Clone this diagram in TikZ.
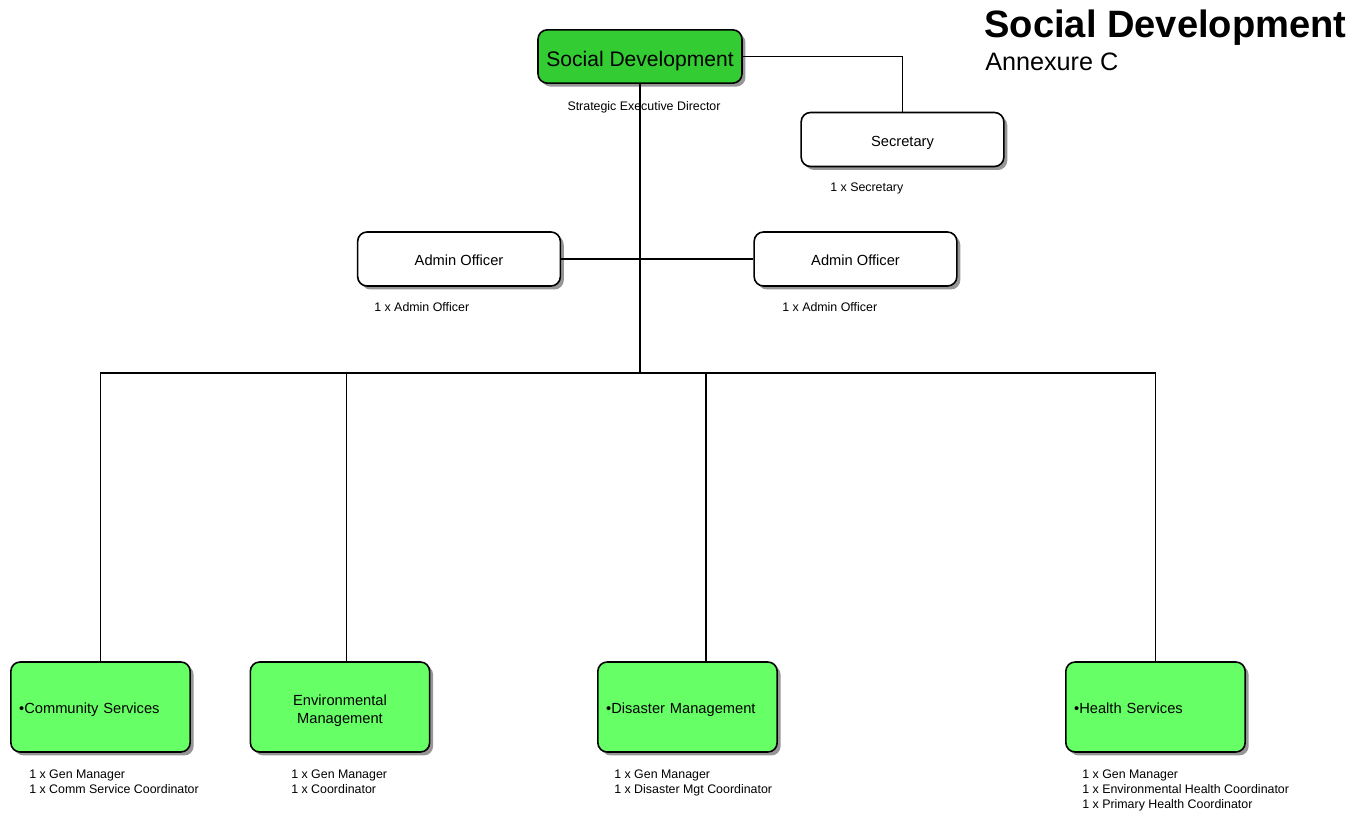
\documentclass[tikz,border=0pt]{standalone}
\usepackage{fontspec}
\setmainfont{Liberation Sans}
\usetikzlibrary{shadows}
\definecolor{headgreen}{HTML}{33CC33}
\definecolor{unitgreen}{HTML}{66FF66}
\begin{document}
\begin{tikzpicture}[x=0.75pt,y=-0.75pt,
  box/.style={draw=black,line width=1.2pt,rounded corners=7pt,fill=white,
    drop shadow={shadow xshift=2.6pt,shadow yshift=-2.6pt,fill=black!55,opacity=0.75},
    font=\fontsize{11}{13.5}\selectfont,inner sep=4pt,text height=10pt,text depth=0pt},
  postbox/.style={box,minimum width=152pt,minimum height=40.5pt},
  unitbox/.style={box,fill=unitgreen,minimum width=134.5pt,minimum height=67.5pt},
  staff/.style={font=\fontsize{9.3}{11.2}\selectfont,inner sep=0pt,align=left},
  link/.style={line width=1.1pt}]
\useasboundingbox (0,0) rectangle (1357,816);

% title block
\node[anchor=west,inner sep=0pt,font=\fontsize{28.6}{32}\selectfont\bfseries] (title) at (984,28) {Social Development};
\node[anchor=west,inner sep=0pt,font=\fontsize{18.9}{22}\selectfont] (annex) at (985,62) {Annexure C};

% director
\node[box,fill=headgreen,minimum width=153pt,minimum height=40pt,text height=15pt,font=\fontsize{15.8}{18}\selectfont] (sd) at (640,56.5) {Social Development};
\node[staff] (sdlab) at (644,107) {Strategic Executive Director};

% support posts
\node[postbox] (sec) at (902.5,139.5) {Secretary};
\node[staff,anchor=west] (seclab) at (830,188) {1 x Secretary};
\node[postbox] (admL) at (459,259) {Admin Officer};
\node[staff,anchor=west] (admLlab) at (374,307) {1 x Admin Officer};
\node[postbox] (admR) at (855.5,259) {Admin Officer};
\node[staff,anchor=west] (admRlab) at (782,307) {1 x Admin Officer};

% units
\node[unitbox,text width=122pt,align=left] (cs) at (100.5,707) {•Community Services};
\node[unitbox,align=center,text height=24.5pt,text depth=0pt] (env) at (340,707) {Environmental\\Management};
\node[unitbox,text width=122pt,align=left] (dm) at (687.5,707) {•Disaster Management};
\node[unitbox,text width=122pt,align=left] (hs) at (1155.5,707) {•Health Services};

\node[staff,anchor=north west] (cslab) at (29,769.5) {1 x Gen Manager\\1 x Comm Service Coordinator};
\node[staff,anchor=north west] (envlab) at (291,769.5) {1 x Gen Manager\\1 x Coordinator};
\node[staff,anchor=north west] (dmlab) at (614,769.5) {1 x Gen Manager\\1 x Disaster Mgt Coordinator};
\node[staff,anchor=north west] (hslab) at (1082,769.5) {1 x Gen Manager\\1 x Environmental Health Coordinator\\1 x Primary Health Coordinator};

% connectors
\coordinate (bus) at (640,373);
\coordinate (envtop) at (346.5,662);
\coordinate (dmtop) at (706,662);
\draw[link] (sd.east) -| (sec.north);
\draw[link] (sd.south) -- (bus);
\draw[link] (admL.east) -- (admR.west);
\draw[link] (cs.north) |- (bus) -| (hs.north);
\draw[link] (envtop) -- (envtop |- bus);
\draw[link] (dmtop) -- (dmtop |- bus);
\end{tikzpicture}
\end{document}
